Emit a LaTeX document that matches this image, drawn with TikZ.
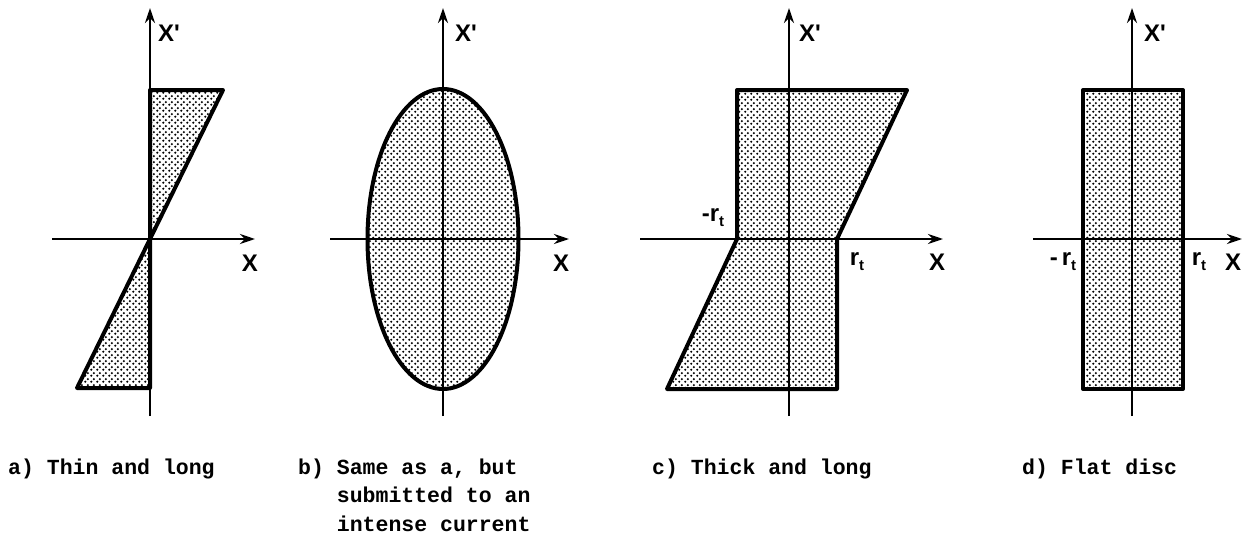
\documentclass[tikz,border=0pt]{standalone}
\usepackage{fontspec}
\usepackage{tikz}
\usetikzlibrary{
  arrows.meta,
  patterns
}
\newfontfamily\capfont{Liberation Mono}
\newfontfamily\labfont{Liberation Sans}
\pgfdeclarepatternformonly{stipple}{\pgfqpoint{0pt}{0pt}}{\pgfqpoint{6pt}{6pt}}{\pgfqpoint{6pt}{6pt}}{%
  \pgfpathcircle{\pgfqpoint{1.5pt}{1.5pt}}{1.35pt}%
  \pgfpathcircle{\pgfqpoint{4.5pt}{4.5pt}}{1.35pt}%
  \pgfusepath{fill}}
\newcommand{\rt}{r\raisebox{-5pt}{\fontsize{15}{15}\selectfont t}}
\tikzset{
  axis/.style={
    -{Stealth[length=15pt,width=10pt]},
    line width=2.6pt
  },
  region/.style={
    draw,
    line width=4pt,
    line join=round,
    pattern=stipple,
    pattern color=black
  },
  axislabel/.style={
    font=\labfont\bfseries\fontsize{24}{24}\selectfont,
    inner sep=0pt
  },
  caption/.style={
    font=\capfont\bfseries\fontsize{21.5}{28.5}\selectfont,
    align=left,
    anchor=base west,
    inner sep=0pt
  }
}

\begin{document}
\begin{tikzpicture}[x=1pt,y=-1pt]
  \useasboundingbox (0,0) rectangle (1244,544);

  % a) Thin and long
  \coordinate (aB) at (150,416);
  \coordinate (aT) at (150,8);
  \coordinate (aL) at (52,239);
  \coordinate (aR) at (255,239);
  \draw[region] (150,90) -- (223,90) -- (150,239) -- cycle;
  \draw[region] (150,239) -- (150,388) -- (77,388) -- cycle;
  \draw[axis] (aB) -- (aT);
  \draw[axis] (aL) -- (aR);
  \node[axislabel] (aXp) at (169,33) {X'};
  \node[axislabel] (aX) at (250,263) {X};

  % b) Same as a, intense current
  \coordinate (bB) at (443,416);
  \coordinate (bT) at (443,8);
  \coordinate (bL) at (330,239);
  \coordinate (bR) at (569,239);
  \draw[region] (443,239) ellipse [x radius=75.5, y radius=150];
  \draw[axis] (bB) -- (bT);
  \draw[axis] (bL) -- (bR);
  \node[axislabel] (bXp) at (466,33) {X'};
  \node[axislabel] (bX) at (561,263) {X};

  % c) Thick and long
  \coordinate (cB) at (789,416);
  \coordinate (cT) at (789,8);
  \coordinate (cL) at (640,239);
  \coordinate (cR) at (943,239);
  \draw[region] (737,90) -- (907,90) -- (837,239) -- (837,389)
    -- (667,389) -- (737,239) -- cycle;
  \draw[axis] (cB) -- (cT);
  \draw[axis] (cL) -- (cR);
  \node[axislabel] (cXp) at (810,33) {X'};
  \node[axislabel] (cX) at (937,262) {X};
  \node[axislabel] (crm) at (713,218) {-\rt};
  \node[axislabel] (crp) at (857,262) {\rt};

  % d) Flat disc
  \coordinate (dB) at (1132,416);
  \coordinate (dT) at (1132,8);
  \coordinate (dL) at (1033,239);
  \coordinate (dR) at (1242,239);
  \draw[region] (1083,90) rectangle (1183,389);
  \draw[axis] (dB) -- (dT);
  \draw[axis] (dL) -- (dR);
  \node[axislabel] (dXp) at (1155,33) {X'};
  \node[axislabel] (dX) at (1233,262) {X};
  \node[axislabel] (drm) at (1063,262) {-\,\rt};
  \node[axislabel] (drp) at (1199,262) {\rt};

  % Captions
  \node[caption] (capa) at (8,474) {a) Thin and long};
  \node[caption] (capb) at (298,531) {b) Same as a, but\\
    \phantom{b) }submitted to an\\
    \phantom{b) }intense current};
  \node[caption] (capc) at (652,474) {c) Thick and long};
  \node[caption] (capd) at (1022,474) {d) Flat disc};

\end{tikzpicture}
\end{document}
